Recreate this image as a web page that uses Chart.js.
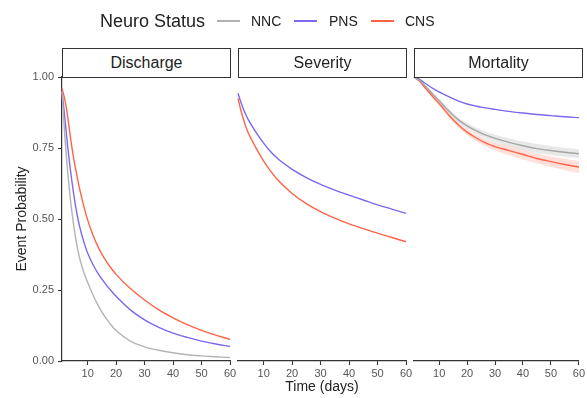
<!DOCTYPE html>
<html><head><meta charset="utf-8">
<script src="https://cdn.jsdelivr.net/npm/chart.js@4.4.1/dist/chart.umd.min.js"></script>
<style>
html,body{margin:0;padding:0;background:#fff;}
#wrap{position:relative;width:587px;height:398px;overflow:hidden;font-family:"Liberation Sans",Arial,sans-serif;color:#222;}
canvas{position:absolute;left:0;top:0;}
.strip{position:absolute;top:48px;height:30px;box-sizing:border-box;border:1.3px solid #333;background:#fff;font-size:16px;line-height:27px;text-align:center;color:#222;}
.lg{position:absolute;line-height:20px;white-space:nowrap;color:#222;}
.key{position:absolute;top:20px;width:23px;height:2px;}
</style></head>
<body><div id="wrap">
<canvas id="c1" width="587" height="398"></canvas>
<canvas id="c2" width="587" height="398"></canvas>
<canvas id="c3" width="587" height="398"></canvas>
<div class="strip" style="left:62px;width:169px;">Discharge</div>
<div class="strip" style="left:238px;width:169px;">Severity</div>
<div class="strip" style="left:414px;width:169px;">Mortality</div>
<div class="lg" style="left:100px;top:11px;font-size:18px;">Neuro Status</div>
<div class="key" style="left:217px;background:#b3b3b3;"></div>
<div class="lg" style="left:251px;top:11px;font-size:14px;">NNC</div>
<div class="key" style="left:294px;background:#7b68ee;"></div>
<div class="lg" style="left:329px;top:11px;font-size:14px;">PNS</div>
<div class="key" style="left:371px;background:#ff6347;"></div>
<div class="lg" style="left:405px;top:11px;font-size:14px;">CNS</div>
</div>
<script>
// ---- data ----
const xTicks = [10, 20, 30, 40, 50, 60];
const yTicks = [0, 0.25, 0.5, 0.75, 1];

const dischargeDays = [1,2,3,4,5,6,7,8,9,10,12,14,16,18,20,25,30,35,40,45,50,55,60];
const dischargeNNC = [0.95,0.79,0.665,0.565,0.485,0.42,0.37,0.333,0.303,0.277,0.23,0.19,0.157,0.13,0.107,0.07,0.05,0.038,0.029,0.022,0.018,0.015,0.012];
const dischargePNS = [0.95,0.855,0.755,0.67,0.595,0.532,0.482,0.442,0.409,0.38,0.337,0.303,0.275,0.25,0.228,0.18,0.145,0.118,0.098,0.083,0.07,0.06,0.051];
const dischargeCNS = [0.96,0.92,0.86,0.785,0.72,0.665,0.615,0.572,0.532,0.497,0.44,0.395,0.36,0.33,0.305,0.255,0.215,0.18,0.152,0.128,0.108,0.091,0.076];

const severityDays = [1,2,3,4,5,6,8,10,12,15,20,25,30,35,40,45,50,55,60];
const severityPNS = [0.943,0.912,0.885,0.862,0.843,0.826,0.795,0.767,0.742,0.712,0.675,0.646,0.622,0.602,0.584,0.567,0.55,0.535,0.52];
const severityCNS = [0.925,0.883,0.848,0.818,0.795,0.775,0.738,0.704,0.675,0.637,0.59,0.554,0.526,0.503,0.483,0.466,0.45,0.435,0.42];

const mortalityDays = [1,3,5,8,11,14,17,20,23,26,30,35,40,45,50,55,60];
const mortalityNNC = [1.0,0.988,0.968,0.937,0.906,0.875,0.848,0.828,0.812,0.798,0.784,0.77,0.758,0.748,0.741,0.735,0.73];
const mortalityNNCLo = [1.0,0.986,0.964,0.931,0.899,0.867,0.839,0.818,0.801,0.786,0.771,0.756,0.743,0.732,0.725,0.719,0.714];
const mortalityNNCHi = [1.0,0.990,0.972,0.943,0.913,0.883,0.857,0.838,0.823,0.810,0.797,0.784,0.773,0.764,0.757,0.751,0.746];
const mortalityPNS = [1.0,0.992,0.978,0.958,0.942,0.928,0.915,0.905,0.898,0.892,0.886,0.879,0.873,0.868,0.864,0.86,0.857];
const mortalityCNS = [1.0,0.985,0.962,0.928,0.895,0.86,0.83,0.806,0.787,0.771,0.755,0.741,0.727,0.713,0.702,0.692,0.683];
const mortalityCNSLo = [1.0,0.982,0.957,0.921,0.887,0.851,0.820,0.795,0.775,0.758,0.741,0.725,0.710,0.695,0.683,0.672,0.662];
const mortalityCNSHi = [1.0,0.988,0.967,0.935,0.903,0.869,0.840,0.817,0.799,0.784,0.769,0.757,0.744,0.731,0.721,0.712,0.704];

const COL = {NNC:'#b3b3b3', PNS:'#7b68ee', CNS:'#ff6347'};

// ---- helpers ----
const pts = (days, vals) => days.map((d, i) => ({x: d, y: vals[i]}));
const line = (label, days, vals, color) => ({
  label, data: pts(days, vals), borderColor: color, borderWidth: 1.4,
  pointRadius: 0, fill: false, cubicInterpolationMode: 'monotone', order: 0, clip: false
});
const band = (days, lo, hi, color) => ([
  {label:'lo', data: pts(days, lo), borderWidth: 0, borderColor:'rgba(0,0,0,0)', pointRadius: 0, fill: false, cubicInterpolationMode:'monotone', order: 2},
  {label:'hi', data: pts(days, hi), borderWidth: 0, borderColor:'rgba(0,0,0,0)', pointRadius: 0, fill: '-1', backgroundColor: color, cubicInterpolationMode:'monotone', order: 2}
]);

function panel(id, datasets, padL, padR, first, showXTitle) {
  new Chart(document.getElementById(id), {
    type: 'line',
    data: { datasets },
    options: {
      responsive: false, animation: false, events: [],
      layout: { padding: { left: padL, right: padR, top: 77, bottom: 0 } },
      plugins: { legend: { display: false }, tooltip: { enabled: false }, title: { display: false } },
      scales: {
        x: {
          type: 'linear', min: 1, max: 60,
          afterBuildTicks: s => { s.ticks = xTicks.map(v => ({value: v})); },
          afterFit: s => { s.height = 37; },
          ticks: { font: { family: 'Liberation Sans', size: 11 }, color: '#555', padding: 2, maxRotation: 0, autoSkip: false },
          grid: { display: true, drawOnChartArea: false, drawTicks: true, tickLength: 4, tickColor: '#333', tickWidth: 1.1 },
          border: { display: true, color: '#333', width: 1.2 },
          title: { display: showXTitle, text: 'Time (days)', font: { family: 'Liberation Sans', size: 14 }, color: '#222', padding: { top: 0, bottom: 2 } }
        },
        y: {
          type: 'linear', min: 0, max: 1, display: first,
          afterBuildTicks: s => { s.ticks = yTicks.map(v => ({value: v})); },
          afterFit: s => { s.width = first ? 62 : 0; },
          ticks: { font: { family: 'Liberation Sans', size: 11 }, color: '#555', padding: 4, callback: v => v.toFixed(2) },
          grid: { display: true, drawOnChartArea: false, drawTicks: true, tickLength: 4, tickColor: '#333', tickWidth: 1.1 },
          border: { display: true, color: '#333', width: 1.2 },
          title: { display: first, text: 'Event Probability', font: { family: 'Liberation Sans', size: 14 }, color: '#222', padding: { top: 14, bottom: 0 } }
        }
      }
    }
  });
}

panel('c1', [
  line('NNC', dischargeDays, dischargeNNC, COL.NNC),
  line('PNS', dischargeDays, dischargePNS, COL.PNS),
  line('CNS', dischargeDays, dischargeCNS, COL.CNS)
], 0, 357, true, false);

panel('c2', [
  line('PNS', severityDays, severityPNS, COL.PNS),
  line('CNS', severityDays, severityCNS, COL.CNS)
], 238, 181, false, true);

panel('c3', [
  line('NNC', mortalityDays, mortalityNNC, '#a6a6a6'),
  line('PNS', mortalityDays, mortalityPNS, COL.PNS),
  line('CNS', mortalityDays, mortalityCNS, COL.CNS),
  ...band(mortalityDays, mortalityNNCLo, mortalityNNCHi, 'rgba(179,179,179,0.3)'),
  ...band(mortalityDays, mortalityCNSLo, mortalityCNSHi, 'rgba(255,99,71,0.2)')
], 414, 5, false, false);
</script>
</body></html>
